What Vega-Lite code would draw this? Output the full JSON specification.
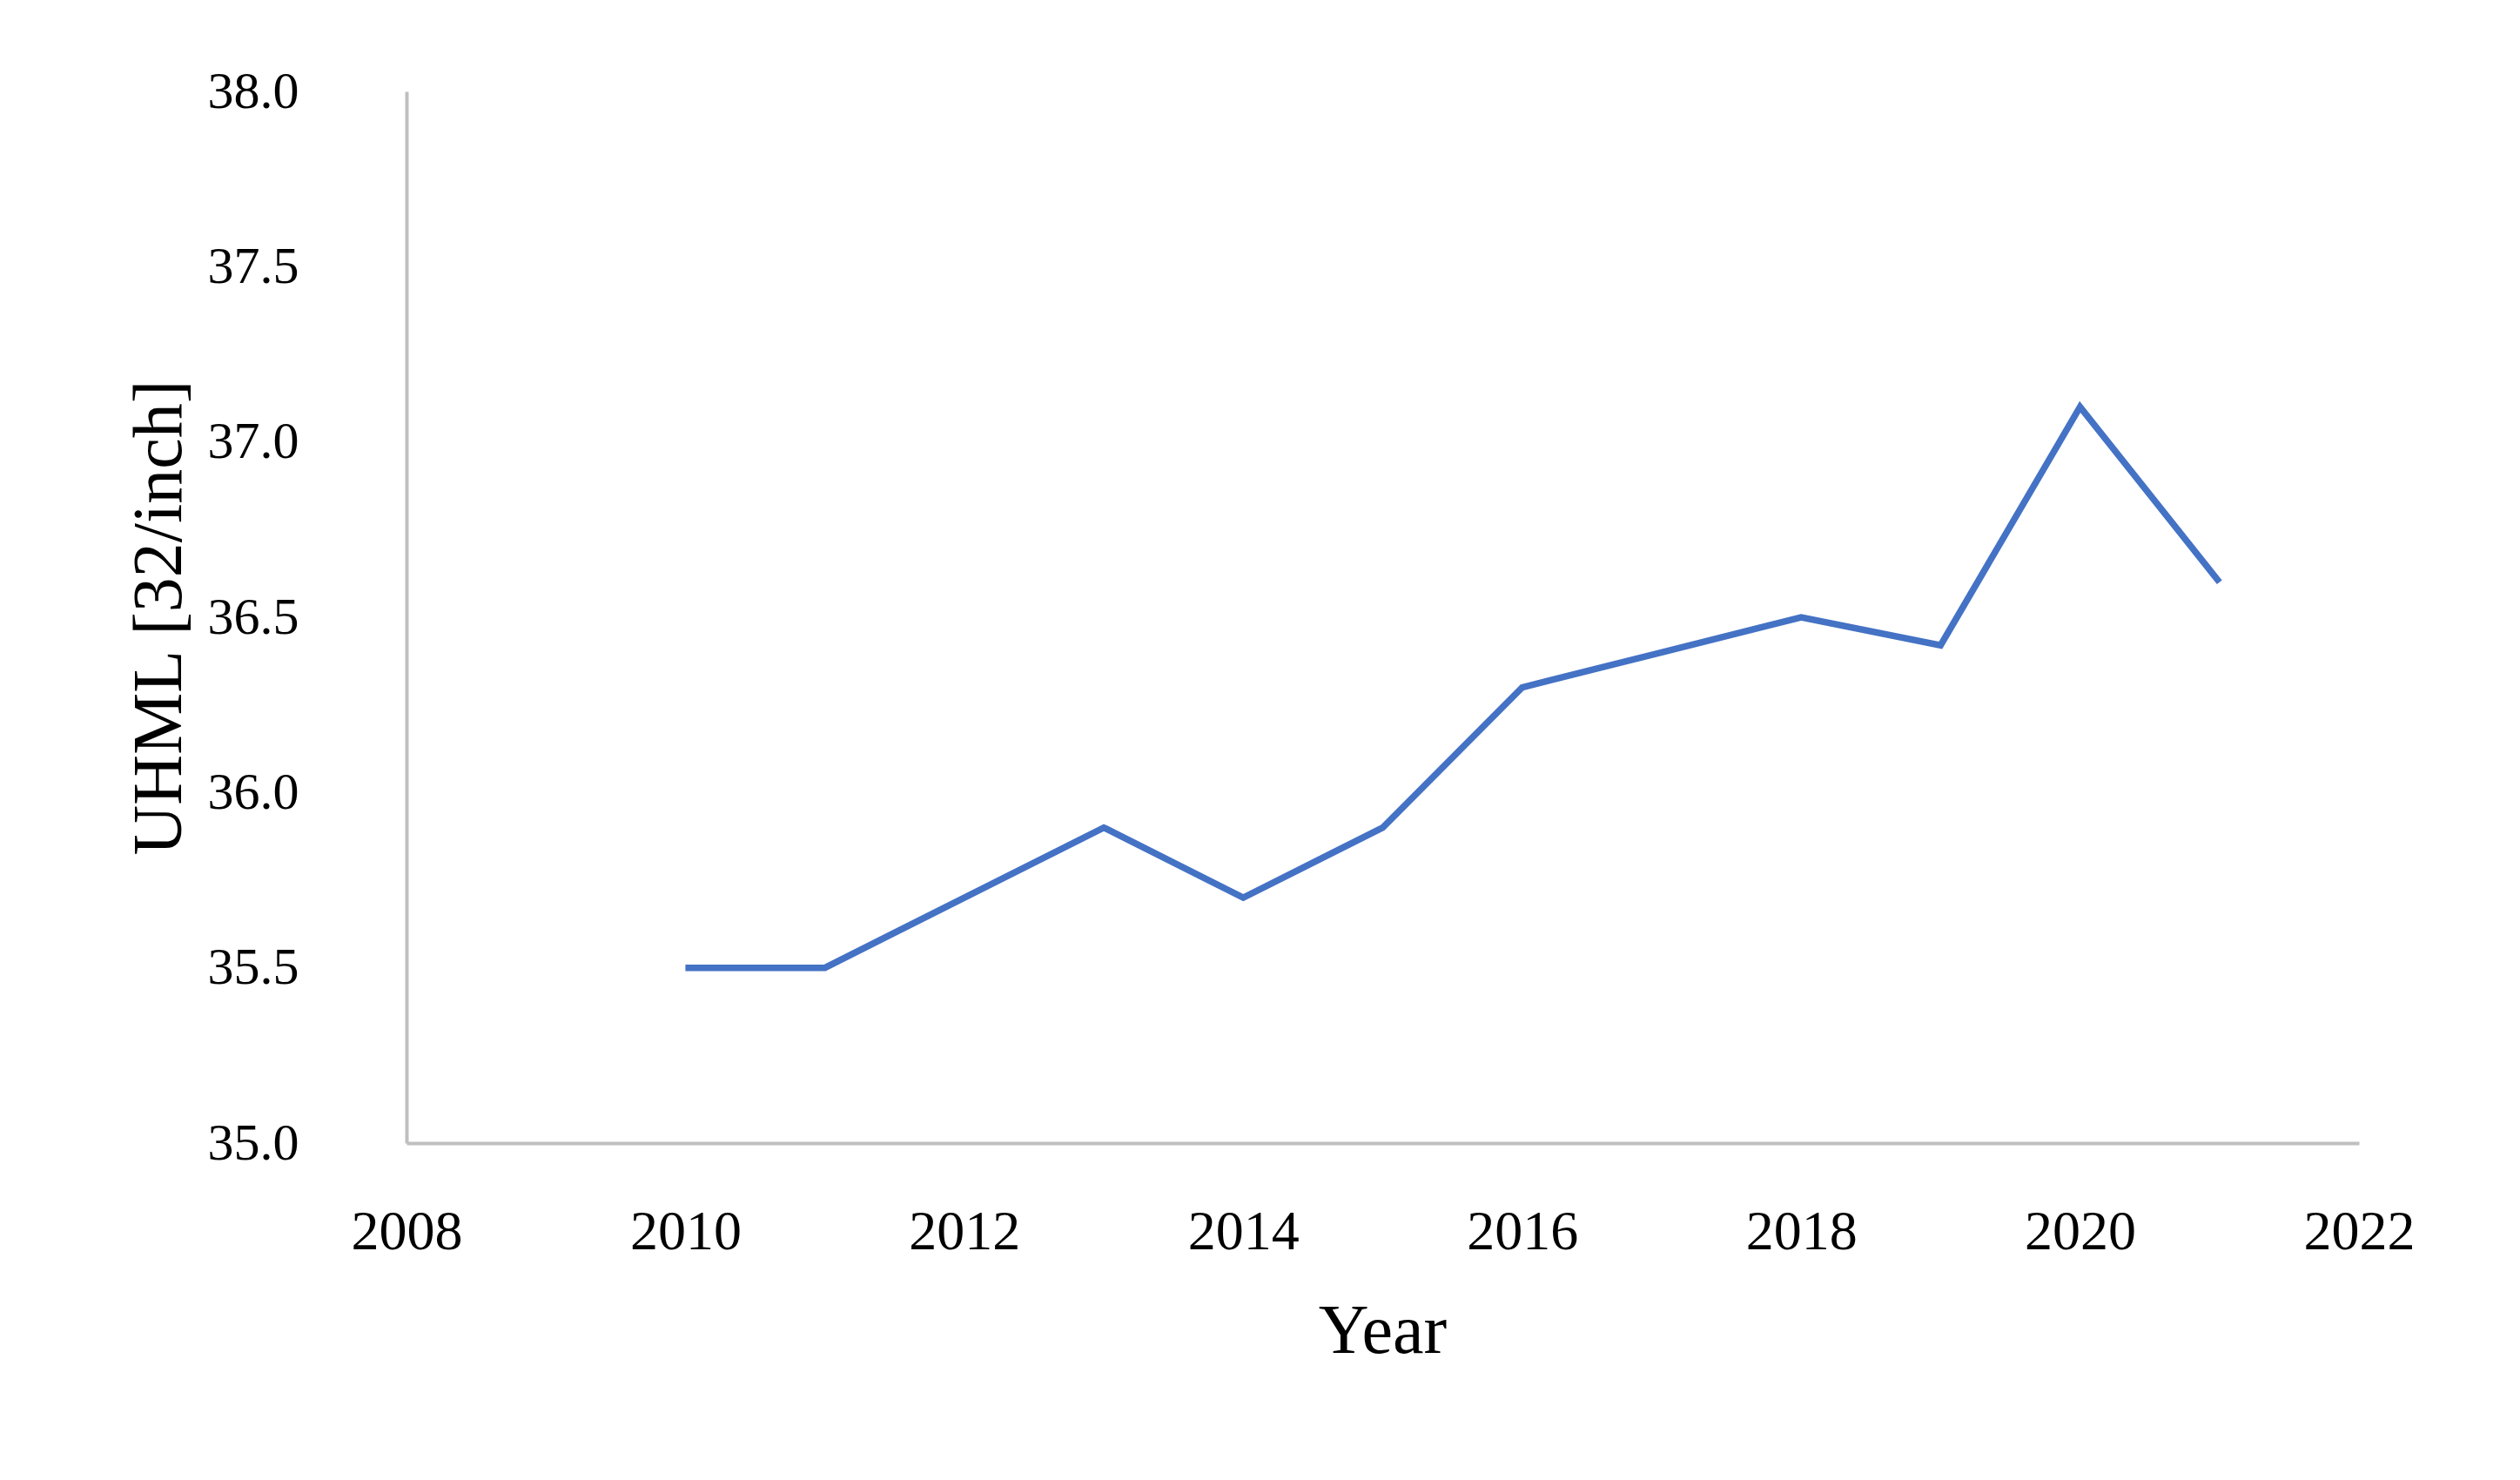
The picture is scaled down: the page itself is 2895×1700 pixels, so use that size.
{
  "$schema": "https://vega.github.io/schema/vega-lite/v6.json",
  "autosize": {"type": "none"},
  "padding": {"left": 467, "top": 105, "right": 185, "bottom": 387},
  "width": 2243,
  "height": 1208,
  "background": "white",
  "data": {"values": [
    {"Year": 2010, "UHML": 35.5},
    {"Year": 2011, "UHML": 35.5},
    {"Year": 2012, "UHML": 35.7},
    {"Year": 2013, "UHML": 35.9},
    {"Year": 2014, "UHML": 35.7},
    {"Year": 2015, "UHML": 35.9},
    {"Year": 2016, "UHML": 36.3},
    {"Year": 2017, "UHML": 36.4},
    {"Year": 2018, "UHML": 36.5},
    {"Year": 2019, "UHML": 36.42},
    {"Year": 2020, "UHML": 37.1},
    {"Year": 2021, "UHML": 36.6}
  ]},
  "mark": {"type": "line", "color": "#4472C4", "strokeWidth": 7.5, "strokeCap": "butt", "strokeJoin": "miter"},
  "encoding": {
    "x": {
      "field": "Year", "type": "quantitative",
      "scale": {"domain": [2008, 2022], "nice": false, "zero": false},
      "axis": {
        "values": [2008, 2010, 2012, 2014, 2016, 2018, 2020, 2022],
        "format": "d", "grid": false, "ticks": false, "tickSize": 0,
        "domainColor": "#BFBFBF", "domainWidth": 4,
        "labelFont": "Liberation Serif", "labelFontSize": 64, "labelColor": "#000000",
        "labelPadding": 70, "labelFlush": false,
        "title": "Year", "titleFont": "Liberation Serif", "titleFontSize": 80,
        "titleFontWeight": "normal", "titleColor": "#000000",
        "titleX": 1121, "titleY": 216, "titleAlign": "center", "titleBaseline": "middle"
      }
    },
    "y": {
      "field": "UHML", "type": "quantitative",
      "scale": {"domain": [35, 38], "nice": false, "zero": false},
      "axis": {
        "values": [35, 35.5, 36, 36.5, 37, 37.5, 38],
        "format": ".1f", "grid": false, "ticks": false, "tickSize": 0,
        "domainColor": "#BFBFBF", "domainWidth": 4,
        "labelFont": "Liberation Serif", "labelFontSize": 60, "labelColor": "#000000",
        "labelPadding": 124, "labelFlush": false,
        "title": "UHML [32/inch]", "titleFont": "Liberation Serif", "titleFontSize": 80,
        "titleFontWeight": "normal", "titleColor": "#000000",
        "titleX": -284, "titleY": 604, "titleAngle": -90, "titleAlign": "center", "titleBaseline": "middle"
      }
    }
  },
  "config": {"view": {"stroke": null}}
}
